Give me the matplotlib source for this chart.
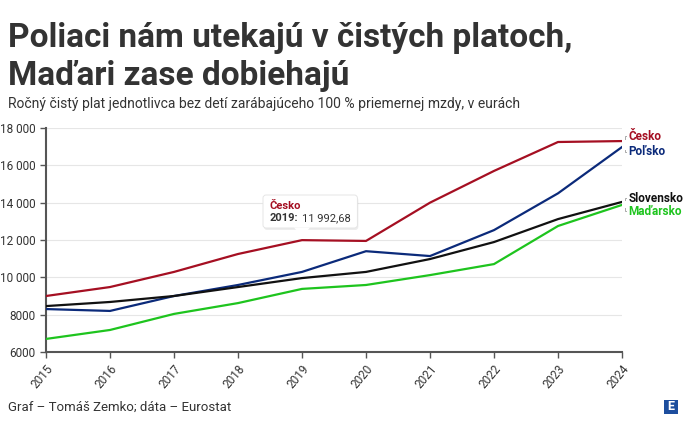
import matplotlib
matplotlib.use("Agg")
import matplotlib.pyplot as plt
from matplotlib.patches import FancyBboxPatch, Rectangle, Polygon
from matplotlib.ticker import FuncFormatter
from matplotlib.transforms import IdentityTransform
from matplotlib import font_manager

names = {f.name for f in font_manager.fontManager.ttflist}
FONT = "Liberation Sans Narrow" if "Liberation Sans Narrow" in names else "Roboto"
plt.rcParams['font.family'] = [FONT, 'DejaVu Sans']

years = [2015, 2016, 2017, 2018, 2019, 2020, 2021, 2022, 2023, 2024]
cesko = [9000, 9480, 10290, 11250, 11992.68, 11950, 14000, 15700, 17250, 17300]
polsko = [8300, 8200, 9000, 9590, 10290, 11400, 11140, 12530, 14500, 16980]
slovensko = [8460, 8680, 9000, 9480, 9960, 10290, 10980, 11890, 13120, 14040]
madarsko = [6700, 7180, 8040, 8620, 9380, 9590, 10120, 10710, 12750, 13880]

names_s = ["Česko", "Poľsko", "Slovensko", "Maďarsko"]
colors = ["#a50f22", "#0b2a7a", "#111111", "#1ec41e"]
data = [cesko, polsko, slovensko, madarsko]
label_y = [17570, 16715, 14250, 13550]

W, H = 690, 424
fig = plt.figure(figsize=(6.9, 4.24), dpi=100)
ax = fig.add_axes([46 / W, 1 - 352 / H, 576 / W, 224 / H])

for vals, col in zip(data, colors):
    ax.plot(years, vals, color=col, lw=1.6, zorder=3)

ax.set_xlim(2015, 2024)
ax.set_ylim(6000, 18000)
ax.set_yticks(range(6000, 18001, 2000))
ax.set_xticks(years)


def fmt(v, pos):
    v = int(v)
    if v >= 10000:
        return "{} {:03d}".format(v // 1000, v % 1000)
    return str(v)


ax.yaxis.set_major_formatter(FuncFormatter(fmt))
ax.grid(axis='y', color='#e6e6e6', lw=0.8)
ax.set_axisbelow(True)
for s in ['top', 'right']:
    ax.spines[s].set_visible(False)
for s in ['left', 'bottom']:
    ax.spines[s].set_color('#555555')
    ax.spines[s].set_linewidth(1.5)
ax.tick_params(axis='both', colors='#555555', labelcolor='#333333', labelsize=8.5, length=4, width=1)
plt.setp(ax.get_xticklabels(), rotation=50, ha='right', rotation_mode='anchor')

# end labels with small connectors
for name, vals, col, ly in zip(names_s, data, colors, label_y):
    ax.text(2024.1, ly, name, color=col, fontsize=8.5, fontweight='bold', va='center', ha='left',
            clip_on=False)
    ax.plot([2024.07, 2024.045, 2024.045], [ly, ly, (ly + vals[-1]) / 2], color='#aaaaaa', lw=0.7,
            clip_on=False, solid_joinstyle='miter')

# tooltip at 2019, box drawn in pixel coordinates
px = IdentityTransform()
fig.canvas.draw()
tip_x, tip_y = ax.transData.transform((years[4], cesko[4]))
fig.text(270 / W, 1 - 206 / H, "Česko", color='#a50f22', fontsize=8, fontweight='bold',
         va='center', zorder=6)
t1 = fig.text(270 / W, 1 - 218 / H, "2019:", color='#333333', fontsize=8, fontweight='bold',
              va='center', zorder=6)
fig.canvas.draw()
bb = t1.get_window_extent()
t2 = fig.text((bb.x1 + 3) / W, 1 - 218 / H, "11 992,68", color='#333333', fontsize=8,
              va='center', zorder=6)
fig.canvas.draw()
bb2 = t2.get_window_extent()
bx0, bx1, by0, by1 = 263, max(341, bb2.x1 + 7), H - 228, H - 195
fig.patches.append(FancyBboxPatch((bx0 + 1, by0 - 2), bx1 - bx0, by1 - by0,
                                  boxstyle="round,pad=0,rounding_size=3", transform=px,
                                  facecolor='black', alpha=0.07, edgecolor='none', zorder=4))
fig.patches.append(FancyBboxPatch((bx0, by0), bx1 - bx0, by1 - by0,
                                  boxstyle="round,pad=0,rounding_size=3", transform=px,
                                  facecolor='white', edgecolor='#e2e2e2', lw=0.6, zorder=5))
fig.patches.append(Polygon([[tip_x - 8, by0 + 0.5], [tip_x + 8, by0 + 0.5], [tip_x, tip_y + 3]],
                           closed=True, transform=px, facecolor='white', edgecolor='none', zorder=5))

fig.text(8 / W, 1 - 38 / H, "Poliaci nám utekajú v čistých platoch,", fontsize=24,
         fontweight='bold', color='#333333', va='center')
fig.text(8 / W, 1 - 76 / H, "Maďari zase dobiehajú", fontsize=24,
         fontweight='bold', color='#333333', va='center')
fig.text(8 / W, 1 - 104 / H, "Ročný čistý plat jednotlivca bez detí zarábajúceho 100 % priemernej mzdy, v eurách",
         fontsize=10, color='#333333', va='center')
fig.text(8 / W, 1 - 407 / H, "Graf – Tomáš Zemko; dáta – Eurostat", fontsize=9.5,
         color='#333333', va='center')

fig.patches.append(Rectangle((664 / W, 1 - 414 / H), 14 / W, 14 / H, transform=fig.transFigure,
                             facecolor='#1d4e9e', edgecolor='none'))
fig.text(671 / W, 1 - 407 / H, "E", color='white', fontsize=9, fontweight='bold',
         ha='center', va='center')

fig.savefig("out.png", dpi=100)
